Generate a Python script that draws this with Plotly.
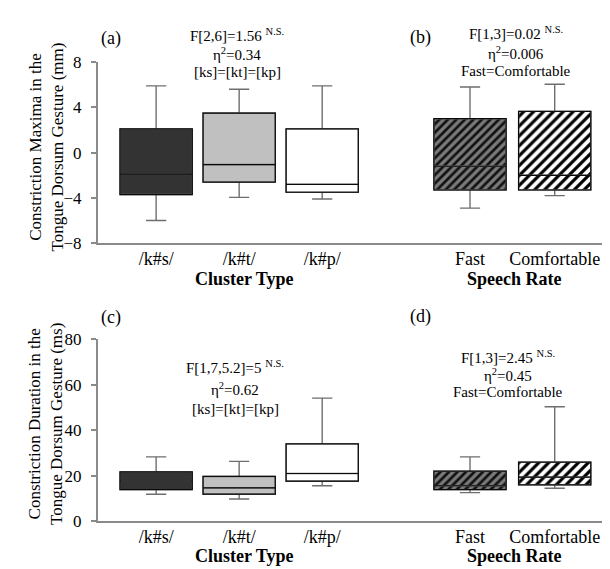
import plotly.graph_objects as go

# ---- data ----
cluster_types = ["/k#s/", "/k#t/", "/k#p/"]
speech_rates = ["Fast", "Comfortable"]

# Constriction maxima (mm)
max_cluster_low = [-6.0, -3.95, -4.1]
max_cluster_q1 = [-3.7, -2.6, -3.5]
max_cluster_med = [-1.9, -1.05, -2.8]
max_cluster_q3 = [2.1, 3.5, 2.1]
max_cluster_high = [5.9, 5.6, 5.9]

max_rate_low = [-4.9, -3.8]
max_rate_q1 = [-3.3, -3.3]
max_rate_med = [-1.2, -2.0]
max_rate_q3 = [3.0, 3.65]
max_rate_high = [5.8, 6.05]

# Constriction duration (ms)
dur_cluster_low = [11.9, 9.8, 15.6]
dur_cluster_q1 = [13.9, 11.9, 17.6]
dur_cluster_med = [17.7, 14.7, 21.0]
dur_cluster_q3 = [21.7, 19.7, 34.0]
dur_cluster_high = [28.3, 26.3, 54.1]

dur_rate_low = [12.6, 14.5]
dur_rate_q1 = [13.9, 16.0]
dur_rate_med = [15.6, 19.4]
dur_rate_q3 = [22.0, 26.0]
dur_rate_high = [28.3, 50.3]

# ---- layout constants ----
W, H = 610, 569
cluster_pos = [0, 1, 2]
rate_pos = [3.78, 4.8]
BOXW = 0.87
XRANGE = [-0.7, 5.49]
FONT = "Liberation Serif, Times New Roman, serif"
cluster_fill = ["#333333", "#c0c0c0", "#ffffff"]
rate_pattern = [
    dict(bg="#7a7a7a", fg="#111111", size=6, solidity=0.45),
    dict(bg="#ffffff", fg="#000000", size=7, solidity=0.45),
]

fig = go.Figure()


def add_boxes(xs, low, q1, med, q3, high, fills, xa, ya):
    for i, x in enumerate(xs):
        # whiskers + fill
        fig.add_trace(go.Box(
            x=[x], q1=[q1[i]], median=[med[i]], q3=[q3[i]],
            lowerfence=[low[i]], upperfence=[high[i]],
            width=BOXW, whiskerwidth=0.28, boxpoints=False,
            fillcolor=fills[i] if fills else "rgba(0,0,0,0)",
            line=dict(color="#6e6e6e", width=1.4),
            xaxis=xa, yaxis=ya, showlegend=False, hoverinfo="skip"))
        # box outline + median
        fig.add_trace(go.Box(
            x=[x], q1=[q1[i]], median=[med[i]], q3=[q3[i]],
            lowerfence=[q1[i]], upperfence=[q3[i]],
            width=BOXW, whiskerwidth=0, boxpoints=False,
            fillcolor="rgba(0,0,0,0)",
            line=dict(color="#0a0a0a", width=1.2),
            xaxis=xa, yaxis=ya, showlegend=False, hoverinfo="skip"))


def add_hatch(xs, q1, q3, xa, ya):
    for i, x in enumerate(xs):
        p = rate_pattern[i]
        fig.add_trace(go.Bar(
            x=[x], base=[q1[i]], y=[q3[i] - q1[i]], width=BOXW,
            marker=dict(color=p["bg"], opacity=1, line=dict(width=0),
                        pattern=dict(shape="/", fgcolor=p["fg"], bgcolor=p["bg"],
                                     size=p["size"], solidity=p["solidity"],
                                     fillmode="replace", fgopacity=1)),
            opacity=1, xaxis=xa, yaxis=ya, showlegend=False, hoverinfo="skip"))


# top panel
add_hatch(rate_pos, max_rate_q1, max_rate_q3, "x", "y")
add_boxes(cluster_pos, max_cluster_low, max_cluster_q1, max_cluster_med, max_cluster_q3,
          max_cluster_high, cluster_fill, "x", "y")
add_boxes(rate_pos, max_rate_low, max_rate_q1, max_rate_med, max_rate_q3,
          max_rate_high, None, "x", "y")
# bottom panel
add_hatch(rate_pos, dur_rate_q1, dur_rate_q3, "x2", "y2")
add_boxes(cluster_pos, dur_cluster_low, dur_cluster_q1, dur_cluster_med, dur_cluster_q3,
          dur_cluster_high, cluster_fill, "x2", "y2")
add_boxes(rate_pos, dur_rate_low, dur_rate_q1, dur_rate_med, dur_rate_q3,
          dur_rate_high, None, "x2", "y2")

xdom = [90 / W, 604 / W]
ytop = [(H - 234) / H, (H - 46.7) / H]
ybot = [(H - 521.7) / H, (H - 333.3) / H]

xcommon = dict(range=XRANGE, showgrid=False, zeroline=False, showline=True,
               linecolor="#8a8a8a", linewidth=2, ticks="", ticklen=0,
               tickvals=cluster_pos + rate_pos, ticktext=cluster_types + speech_rates,
               tickfont=dict(family=FONT, size=18, color="#000"),
               ticklabelstandoff=-2, fixedrange=True)
ycommon = dict(showgrid=False, zeroline=False, showline=True, linecolor="#8a8a8a",
               linewidth=2, ticks="outside", ticklen=5, tickcolor="#8a8a8a", tickwidth=1.5,
               ticklabelstandoff=6,
               tickfont=dict(family=FONT, size=17, color="#000"), fixedrange=True)

fig.update_layout(
    width=W, height=H, margin=dict(l=0, r=0, t=0, b=0),
    paper_bgcolor="white", plot_bgcolor="white",
    boxmode="overlay", barmode="overlay",
    xaxis=dict(domain=xdom, anchor="y", **xcommon),
    yaxis=dict(domain=ytop, anchor="x", range=[-8, 8], tickvals=[-8, -4, 0, 4, 8], **ycommon),
    xaxis2=dict(domain=xdom, anchor="y2", **xcommon),
    yaxis2=dict(domain=ybot, anchor="x2", range=[0, 80], tickvals=[0, 20, 40, 60, 80], **ycommon),
)


def ann(text, px, py, size=15, bold=False, angle=0):
    fig.add_annotation(
        text=f"<b>{text}</b>" if bold else text,
        x=px / W, y=1 - py / H, xref="paper", yref="paper",
        xanchor="center", yanchor="middle", showarrow=False, textangle=angle,
        font=dict(family=FONT, size=size, color="#000"))


# y axis titles
ann("Constriction Maxima in the<br>Tongue Dorsum Gesture (mm)", 38, 135, size=17, angle=-90)
ann("Constriction Duration in the<br>Tongue Dorsum Gesture (ms)", 38, 421, size=17, angle=-90)
# x axis titles
for py in (271, 558):
    ann("Cluster Type", 236, py, size=18, bold=True)
    ann("Speech Rate", 506, py, size=18, bold=True)
# panel labels
ann("(a)", 103, 22, size=18)
ann("(b)", 412, 21, size=18)
ann("(c)", 103, 311, size=18)
ann("(d)", 412, 310, size=18)

# statistics
stats = [
    (229, [19, 38, 57], ["F[2,6]=1.56 <sup>N.S.</sup>", "η<sup>2</sup>=0.34", "[ks]=[kt]=[kp]"]),
    (508, [17, 37, 56], ["F[1,3]=0.02 <sup>N.S.</sup>", "η<sup>2</sup>=0.006", "Fast=Comfortable"]),
    (227, [362, 385, 406], ["F[1,7,5.2]=5 <sup>N.S.</sup>", "η<sup>2</sup>=0.62", "[ks]=[kt]=[kp]"]),
    (500, [352, 370, 388], ["F[1,3]=2.45 <sup>N.S.</sup>", "η<sup>2</sup>=0.45", "Fast=Comfortable"]),
]
for cx, ys, lines in stats:
    for py, t in zip(ys, lines):
        ann(t, cx, py, size=15)

fig.write_html("out.html")
